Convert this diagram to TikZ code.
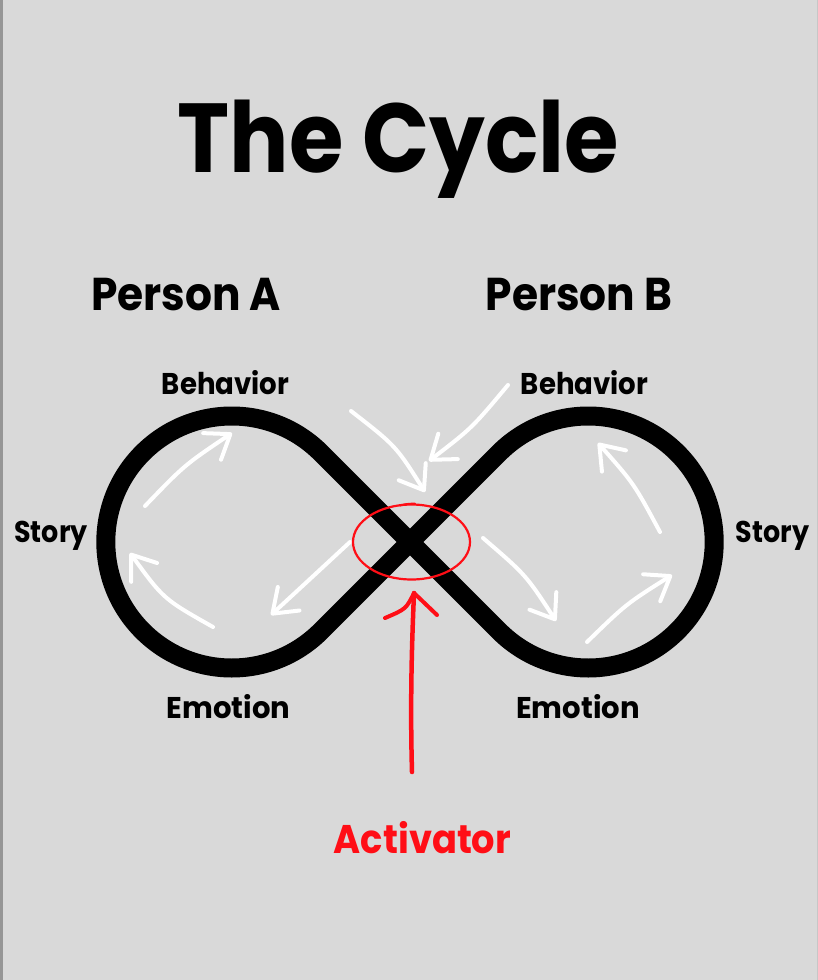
\documentclass[tikz,border=0pt]{standalone}
\usepackage{fontspec}
\usepackage{graphicx}
\setmainfont{Poppins}
\usetikzlibrary{arrows.meta}
\definecolor{bg}{RGB}{217,217,217}
\definecolor{redink}{RGB}{255,14,22}
\definecolor{edge}{RGB}{150,150,150}
\newcommand{\narrow}[2]{\scalebox{#1}[1]{#2}}
\tikzset{
  lbl/.style={anchor=base, inner sep=0pt, text=black, font=\fontsize{#1}{#1}\selectfont\bfseries},
  warrow/.style={draw=white, line width=4pt, line cap=round,
    -{Straight Barb[length=22pt, width=32pt, line cap=round, round]}},
  loopline/.style={draw=black, line width=19pt, line join=round},
  redline/.style={draw=redink, line width=4.5pt, line cap=round},
}
\begin{document}
\begin{tikzpicture}[x=1pt,y=-1pt]
\fill[bg] (0,0) rectangle (818,980);
\useasboundingbox (0,0) rectangle (818,980);
\fill[edge] (0,0) rectangle (2.5,980);
\fill[black!22] (816.8,0) rectangle (818,980);

% title and labels
\node[lbl=98] (title) at (398.5,172) {\narrow{0.9}{The Cycle}};
\node[lbl=46] (pa) at (186,310) {\narrow{0.92}{Person A}};
\node[lbl=46] (pb) at (579,310) {\narrow{0.92}{Person B}};
\node[lbl=30] (behA) at (225.5,394) {\narrow{0.92}{Behavior}};
\node[lbl=30] (behB) at (584.5,394) {\narrow{0.92}{Behavior}};
\node[lbl=30] (stA) at (51,542) {\narrow{0.9}{Story}};
\node[lbl=30] (stB) at (772.5,542) {\narrow{0.9}{Story}};
\node[lbl=30] (emA) at (228.5,718) {\narrow{0.97}{Emotion}};
\node[lbl=30] (emB) at (578,718) {\narrow{0.97}{Emotion}};
\node[lbl=40, text=redink] (act) at (422.5,853) {\narrow{0.92}{Activator}};

% infinity loop
\coordinate (C) at (410,542);
\path[loopline] (C) -- ++(-89.1,-89.1) arc[start angle=-45, end angle=-315, radius=126]
  -- (C) -- ++(89.1,-89.1) arc[start angle=-135, end angle=135, radius=126] -- cycle;

% white arrows
\coordinate (a1s) at (145,506); \coordinate (a1e) at (232,433);
\coordinate (a2s) at (213,627); \coordinate (a2e) at (130,553);
\coordinate (a3s) at (350,542); \coordinate (a3e) at (271,615);
\coordinate (a4s) at (351,411); \coordinate (a4e) at (425,492);
\coordinate (a5s) at (508,385); \coordinate (a5e) at (429,461);
\coordinate (a6s) at (483,538); \coordinate (a6e) at (556,621);
\coordinate (a7s) at (587,642); \coordinate (a7e) at (672,575);
\coordinate (a8s) at (660,532); \coordinate (a8e) at (598,443);
\draw[warrow] (a1s) .. controls (184.6,464.9) .. (a1e);
\draw[warrow] (a2s) .. controls (163.5,599) .. (a2e);
\draw[warrow] (a3s) .. controls (309,580) .. (a3e);
\draw[warrow] (a4s) .. controls (396,446) .. (a4e);
\draw[warrow] (a5s) .. controls (472,428) .. (a5e);
\draw[warrow] (a6s) .. controls (526,575) .. (a6e);
\draw[warrow] (a7s) .. controls (626.3,603.8) .. (a7e);
\draw[warrow] (a8s) .. controls (634,483.6) .. (a8e);

% red ellipse around the crossing
\draw[draw=redink, line width=2.2pt] (411.5,542) ellipse[x radius=58.5, y radius=37.5];
\draw[draw=redink, line width=2pt, line cap=round] (400,505.5) .. controls (406,504) .. (415,503.5);

% red activator arrow
\coordinate (rbot) at (412,772);
\coordinate (rtip) at (414,593);
\draw[redline] (rbot) .. controls (410,700) and (412,640) .. (rtip);
\draw[redline, line width=4pt] (rtip) .. controls (406,609) .. (385,618);
\draw[redline, line width=4pt] (rtip) .. controls (426,604) .. (437,615);
\end{tikzpicture}
\end{document}
